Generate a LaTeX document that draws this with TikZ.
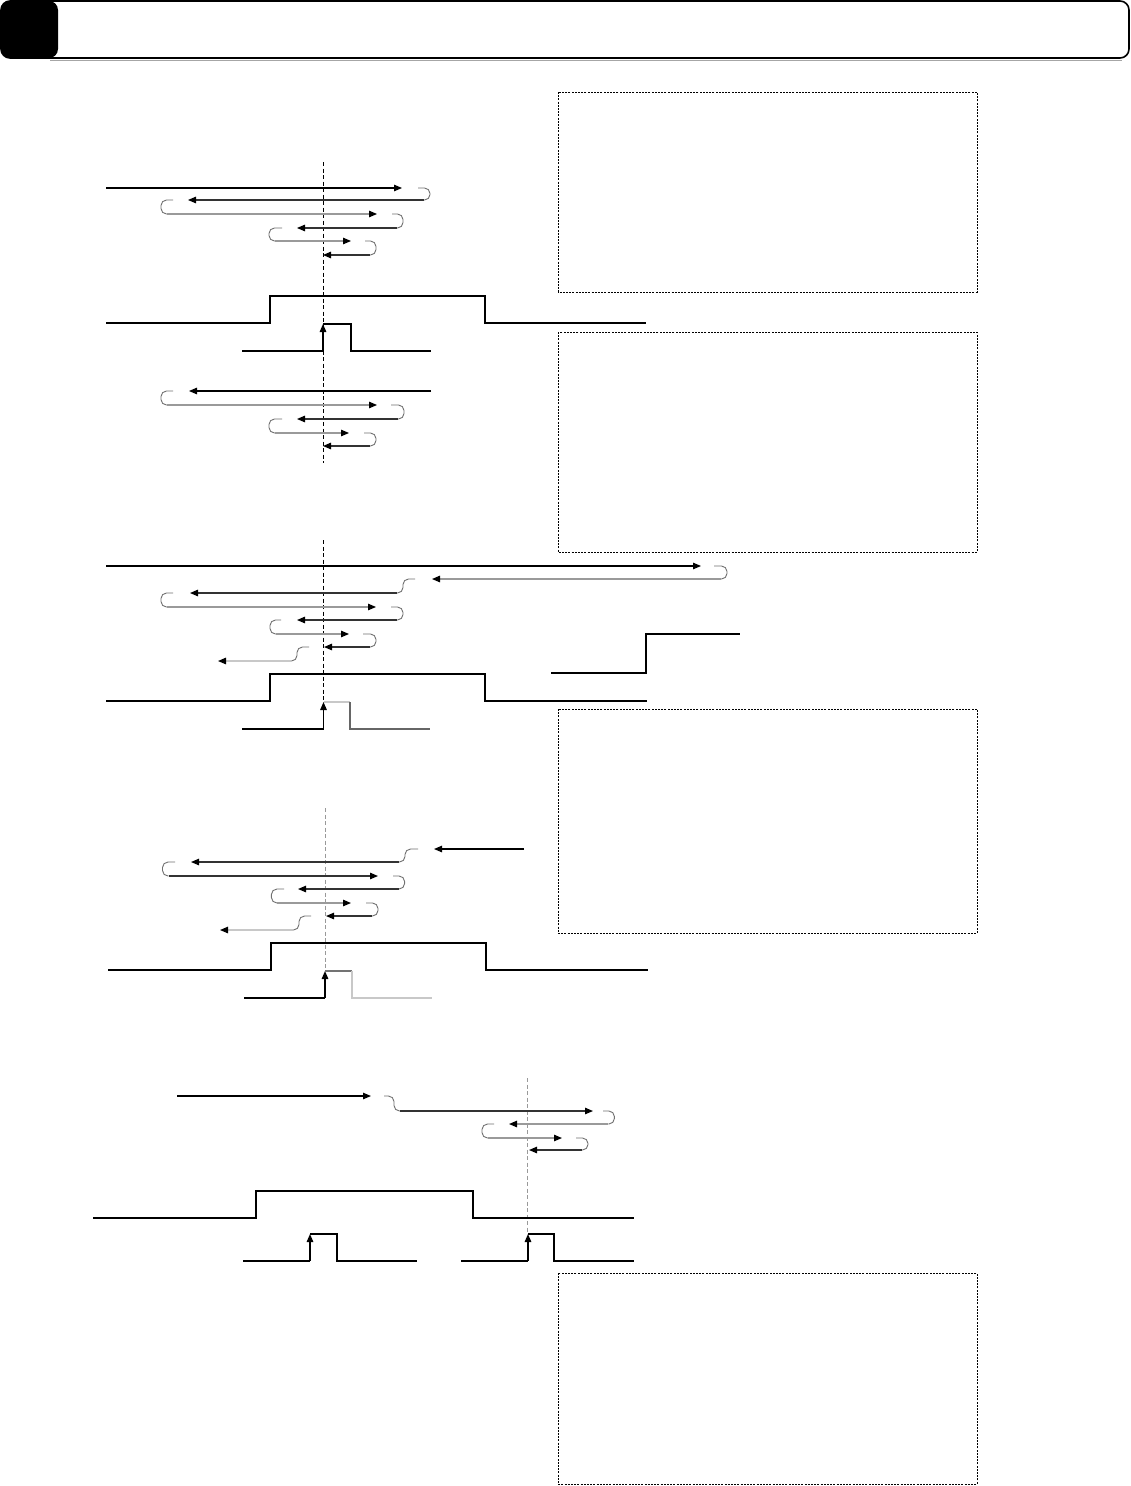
\documentclass[tikz,border=0pt]{standalone}
\usetikzlibrary{arrows.meta}
\definecolor{cz}{HTML}{000000}
\definecolor{cdark}{HTML}{333333}
\definecolor{clight}{HTML}{9A9A9A}
\definecolor{cpale}{HTML}{C8C8C8}
\definecolor{chook}{HTML}{707070}
\tikzset{
  arr/.style={line width=1.1pt,-{Triangle[length=8pt,width=6.5pt,color=black]}},
  hk/.style={chook,line width=0.9pt,rounded corners=5.5pt},
  sig/.style={line width=1.4pt,black},
  vmark/.style={line width=0.9pt,dash pattern=on 4pt off 2.5pt},
  boxd/.style={line width=0.9pt,dash pattern=on 2pt off 1.2pt},
}
% hook at right end: from (xs,y1) to xe, down to y2, back left
\newcommand\hookRt[4]{\draw[hk] (#1,#3) -- (#2,#3) -- (#2,#4) -- ({#2-6},#4);}
% hook at left end
\newcommand\hookLt[4]{\draw[hk] (#1,#3) -- (#2,#3) -- (#2,#4) -- ({#2+6},#4);}
% step curve
\newcommand\stepLt[4]{\draw[hk] (#1,#3) -- (#2,#3) -- (#2,#4) -- ({#2-6},#4);}
\newcommand\stepRt[4]{\draw[hk] (#1,#3) -- (#2,#3) -- (#2,#4) -- ({#2+6},#4);}
\begin{document}
\begin{tikzpicture}[x=1pt,y=-1pt]
\useasboundingbox (0,0) rectangle (1131,1486);
\fill[white] (0,0) rectangle (1131,1486);
% header
\fill[black,rounded corners=9pt] (1,1) rectangle (58,58);
\draw[line width=1.6pt,rounded corners=9pt] (1,1) rectangle (1129,58);
\draw[black!35,line width=0.6pt] (50,60) -- (1122,60);
% dashed boxes
\draw[boxd] (558,92) rectangle (977,292);
\draw[boxd] (558,332) rectangle (977,552);
\draw[boxd] (558,709) rectangle (977,933);
\draw[boxd] (558,1273) rectangle (977,1484);

% ===== section 1 =====
\draw[vmark] (323,162) -- (323,463);
\draw[arr,cz] (106,188) -- (402,188);
\hookRt{418}{430}{188}{200}
\draw[arr,cdark] (424,200) -- (188,200);
\hookLt{173}{161}{200}{214}
\draw[arr,clight] (167,214) -- (377,214);
\hookRt{392}{403}{214}{228}
\draw[arr,cdark] (397,228) -- (297,228);
\hookLt{282}{269}{228}{241}
\draw[arr,clight] (275,241) -- (351,241);
\hookRt{365}{376}{241}{255}
\draw[arr,cdark] (370,255) -- (323,255);
% pulses
\draw[sig] (106,323) -- (270,323) -- (270,296) -- (485,296) -- (485,323) -- (646,323);
\draw[sig] (242,351) -- (323,351);
\draw[arr,line width=1.4pt] (323,351) -- (323,324);
\draw[sig] (323,324) -- (351,324) -- (351,351) -- (431,351);
% lower arrows
\draw[arr,cz] (431,391) -- (189,391);
\hookLt{173}{161}{391}{405}
\draw[arr,clight] (167,405) -- (377,405);
\hookRt{391}{404}{405}{419}
\draw[arr,cdark] (398,419) -- (297,419);
\hookLt{282}{269}{419}{433}
\draw[arr,clight] (275,433) -- (349,433);
\hookRt{364}{376}{433}{446}
\draw[arr,cdark] (370,446) -- (323,446);

% ===== section 3 =====
\draw[vmark,line width=0.7pt] (323.5,540) -- (323.5,703);
\draw[arr,cz] (106,566) -- (701,566);
\hookRt{714}{727}{566}{579}
\draw[arr,clight] (721,579) -- (432,579);
\stepLt{415}{403}{579}{593}
\draw[arr,cdark] (397,593) -- (190,593);
\hookLt{173}{161}{593}{607}
\draw[arr,clight] (167,607) -- (376,607);
\hookRt{391}{403}{607}{620}
\draw[arr,cdark] (397,620) -- (297,620);
\hookLt{281}{270}{620}{634}
\draw[arr,clight] (276,634) -- (349,634);
\hookRt{363}{376}{634}{647}
\draw[arr,cdark] (370,647) -- (324,647);
\stepLt{309}{297}{647}{661}
\draw[arr,cpale] (291,661) -- (218,661);
\draw[sig] (106,701) -- (270,701) -- (270,674) -- (485,674) -- (485,701) -- (647,701);
\draw[sig] (242,729) -- (323.5,729);
\draw[arr,line width=1.4pt] (323.5,729) -- (323.5,702);
\draw[line width=1.4pt,cpale] (323.5,702) -- (350,702);
\draw[line width=1.4pt,black!60] (350,702) -- (350,729) -- (430,729);
\draw[sig] (551,673) -- (646,673) -- (646,634) -- (740,634);

% ===== section 4 =====
\draw[vmark,black!40,line width=1pt] (325,808) -- (325,970);
\draw[arr,cz] (524,849) -- (434,849);
\stepLt{418}{405}{849}{862}
\draw[arr,cdark] (399,862) -- (191,862);
\hookLt{175}{162.5}{862}{876}
\draw[arr,cdark] (168.5,876) -- (378,876);
\hookRt{393}{404.6}{876}{889}
\draw[arr,cdark] (398.6,889) -- (298,889);
\hookLt{284}{271.4}{889}{903}
\draw[arr,clight] (277.4,903) -- (351,903);
\hookRt{366}{378}{903}{916}
\draw[arr,cdark] (372,916) -- (326,916);
\stepLt{311}{299}{916}{930}
\draw[arr,cpale] (293,930) -- (220,930);
\draw[sig] (108,970) -- (271,970) -- (271,943) -- (486,943) -- (486,970) -- (648,970);
\draw[sig] (244,998) -- (325,998);
\draw[arr,line width=1.4pt] (325,998) -- (325,971);
\draw[line width=1.4pt,black!55] (325,971) -- (352,971);
\draw[line width=1.4pt,cpale] (352,971) -- (352,998) -- (432,998);

% ===== section 5 =====
\draw[vmark,black!40,line width=1pt] (527,1078) -- (527,1233);
\draw[arr,cz] (177,1096) -- (371,1096);
\stepRt{384}{394}{1096}{1111}
\draw[arr,cdark] (400,1111) -- (593,1111);
\hookRt{603}{614.4}{1111}{1124}
\draw[arr,clight] (608.4,1124) -- (509,1124);
\hookLt{494}{482}{1124}{1138}
\draw[arr,clight] (488,1138) -- (562,1138);
\hookRt{576}{588}{1138}{1150}
\draw[arr,cdark] (582,1150) -- (529,1150);
\draw[sig] (93,1218) -- (256,1218) -- (256,1191) -- (473,1191) -- (473,1218) -- (634,1218);
\draw[sig] (243,1261) -- (310,1261);
\draw[arr,line width=1.4pt] (310,1261) -- (310,1234);
\draw[sig] (310,1234) -- (337,1234) -- (337,1261) -- (417,1261);
\draw[sig] (461,1261) -- (528,1261);
\draw[arr,line width=1.4pt] (528,1261) -- (528,1234);
\draw[sig] (528,1234) -- (554,1234) -- (554,1261) -- (634,1261);
\end{tikzpicture}
\end{document}
